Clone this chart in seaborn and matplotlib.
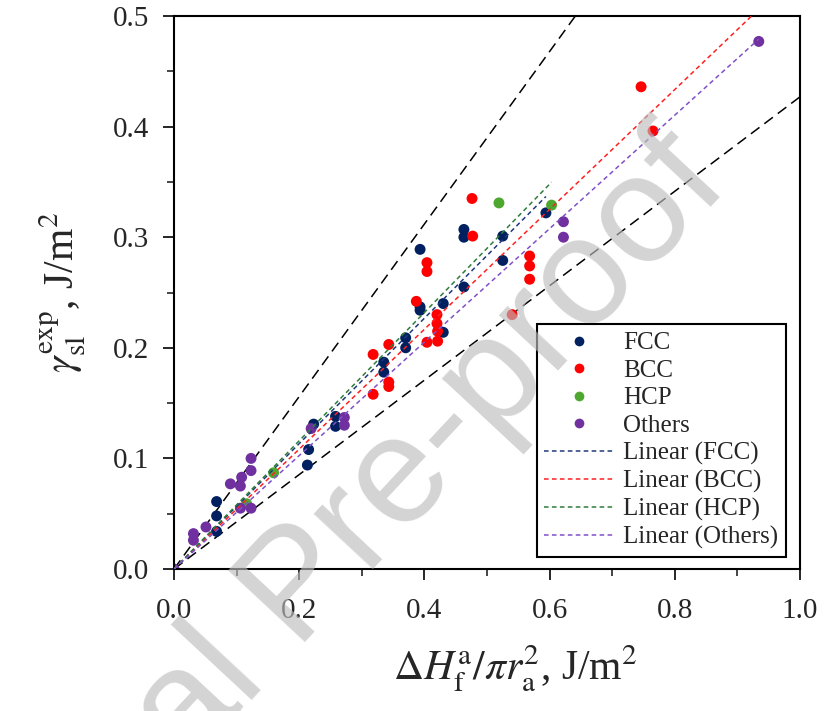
import numpy as np
import pandas as pd
import matplotlib
matplotlib.use('Agg')
import matplotlib.pyplot as plt
from matplotlib.lines import Line2D
from matplotlib.ticker import MultipleLocator
import seaborn as sns

# ================= 数据 =================
fcc_x = [0.068, 0.068, 0.068, 0.213, 0.215, 0.223, 0.258, 0.258, 0.335, 0.335, 0.370, 0.370,
         0.393, 0.393, 0.393, 0.430, 0.430, 0.463, 0.463, 0.463, 0.525, 0.525, 0.594]
fcc_y = [0.061, 0.048, 0.034, 0.094, 0.108, 0.131, 0.138, 0.129, 0.187, 0.178, 0.209, 0.200,
         0.289, 0.237, 0.234, 0.240, 0.214, 0.307, 0.300, 0.255, 0.301, 0.279, 0.322]

bcc_x = [0.318, 0.318, 0.343, 0.343, 0.343, 0.387, 0.404, 0.404, 0.404, 0.420, 0.420, 0.421,
         0.421, 0.476, 0.477, 0.540, 0.568, 0.568, 0.568, 0.746, 0.765]
bcc_y = [0.158, 0.194, 0.203, 0.169, 0.165, 0.242, 0.277, 0.269, 0.205, 0.230, 0.222, 0.215,
         0.206, 0.335, 0.301, 0.230, 0.283, 0.274, 0.262, 0.436, 0.396]

hcp_x = [0.116, 0.159, 0.519, 0.603]
hcp_y = [0.059, 0.087, 0.331, 0.329]

oth_x = [0.0, 0.031, 0.031, 0.051, 0.090, 0.106, 0.108, 0.123, 0.123, 0.106, 0.123, 0.219,
         0.272, 0.272, 0.622, 0.622, 0.934]
oth_y = [0.0, 0.032, 0.026, 0.038, 0.077, 0.075, 0.083, 0.100, 0.089, 0.055, 0.055, 0.127,
         0.137, 0.130, 0.314, 0.300, 0.477]

groups = ['FCC', 'BCC', 'HCP', 'Others']
dot_colors = ['#002060', '#FF0000', '#4EA72E', '#7030A0']
fit_colors = ['#1F3A7A', '#FF2020', '#2E7D3A', '#8050C8']
# linear trend lines through origin: slope and x extent
fit_slope = [0.567, 0.542, 0.580, 0.513]
fit_xmax = [0.594, 0.935, 0.603, 0.934]

# black dashed bounds
bound_slope = [0.78, 0.427]

df = pd.DataFrame({
    'x': fcc_x + bcc_x + hcp_x + oth_x,
    'y': fcc_y + bcc_y + hcp_y + oth_y,
    'group': ['FCC'] * len(fcc_x) + ['BCC'] * len(bcc_x) + ['HCP'] * len(hcp_x) + ['Others'] * len(oth_x),
})

# ================= 绘图 =================
sns.set_style('ticks')
plt.rcParams['font.family'] = ['Liberation Serif', 'DejaVu Serif']
plt.rcParams['mathtext.fontset'] = 'stix'

fig = plt.figure(figsize=(8.24, 7.11), dpi=100)
ax = fig.add_axes([0.2112, 0.1997, 0.7598, 0.7778])

for s in bound_slope:
    xs = np.array([0.0, 1.0])
    ax.plot(xs, s * xs, color='black', lw=1.1, dashes=(7, 4), zorder=1)

for g, c, k, xm in zip(groups, fit_colors, fit_slope, fit_xmax):
    xs = np.array([0.0, xm])
    ax.plot(xs, k * xs, color=c, lw=1.1, dashes=(3, 2.2), zorder=3)

sns.scatterplot(data=df, x='x', y='y', hue='group', hue_order=groups,
                palette=dict(zip(groups, dot_colors)), s=62, edgecolor='none',
                legend=False, ax=ax, zorder=2)

ax.set_xlim(0, 1.0)
ax.set_ylim(0, 0.5)
ax.xaxis.set_major_locator(MultipleLocator(0.2))
ax.xaxis.set_minor_locator(MultipleLocator(0.1))
ax.yaxis.set_major_locator(MultipleLocator(0.1))
ax.yaxis.set_minor_locator(MultipleLocator(0.05))
ax.set_xticklabels([f'{v:.1f}' for v in ax.get_xticks()])
ax.set_yticklabels([f'{v:.1f}' for v in ax.get_yticks()])
ax.tick_params(which='major', direction='out', length=8, width=1.4, labelsize=21, pad=10)
ax.tick_params(axis='x', which='major', pad=13)
ax.tick_params(which='minor', direction='out', length=5, width=1.2)
for sp in ax.spines.values():
    sp.set_linewidth(1.5)
    sp.set_color('black')

ax.set_xlabel(r'$\Delta H_{\rm f}^{\rm a}/\pi r_{\rm a}^{2}$, J/m$^{2}$', fontsize=30)
ax.xaxis.set_label_coords(0.545, -0.135)
ax.set_ylabel(r'$\gamma_{\rm sl}^{\rm exp}$, J/m$^{2}$', fontsize=30, labelpad=18)

handles = []
for g, c in zip(groups, dot_colors):
    handles.append(Line2D([], [], ls='none', marker='o', ms=7, mfc=c, mec='none', label=g))
for g, c in zip(groups, fit_colors):
    handles.append(Line2D([], [], color=c, lw=1.1, dashes=(3, 2.2), label=f'Linear ({g})'))
leg = ax.legend(handles=handles, loc='lower right', bbox_to_anchor=(0.977, 0.022),
                fontsize=18, frameon=True, fancybox=False, edgecolor='black',
                handlelength=2.8, handletextpad=0.35, labelspacing=0.2,
                borderpad=0.3, borderaxespad=0)
leg.get_frame().set_linewidth(1.5)
leg.get_frame().set_alpha(1)

# watermark
fig.text(300 / 824, 1 - 590 / 711, 'Journal Pre-proof', fontsize=110, color='#bdbdbd', alpha=0.65,
         rotation=47, rotation_mode='anchor', ha='center', va='center',
         family='Liberation Sans', zorder=10)

plt.savefig('out.png', dpi=100)
plt.close()
